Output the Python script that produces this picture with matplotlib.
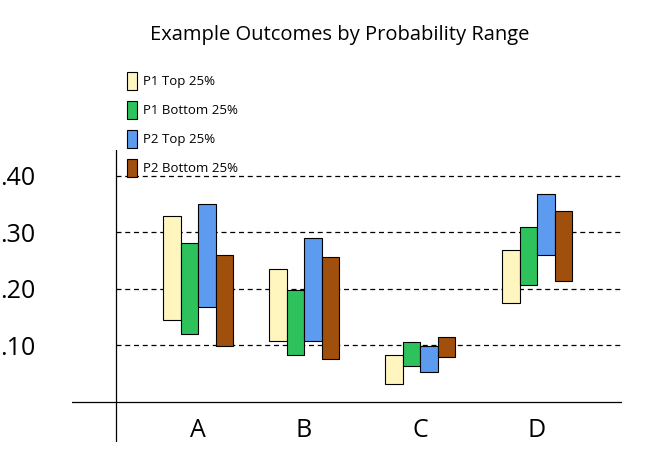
import matplotlib
matplotlib.use("Agg")
import matplotlib.pyplot as plt
from matplotlib.patches import Patch

categories = ["A", "B", "C", "D"]
series = ["P1 Top 25%", "P1 Bottom 25%", "P2 Top 25%", "P2 Bottom 25%"]
lows = [
    [0.145, 0.108, 0.032, 0.175],
    [0.120, 0.083, 0.064, 0.207],
    [0.168, 0.108, 0.053, 0.260],
    [0.099, 0.076, 0.080, 0.214],
]
highs = [
    [0.329, 0.235, 0.083, 0.269],
    [0.281, 0.198, 0.106, 0.310],
    [0.350, 0.290, 0.099, 0.368],
    [0.260, 0.257, 0.115, 0.338],
]
colors = ["#FFF5BF", "#2DC25C", "#5C9BF0", "#A14F0D"]
yticks = [0.10, 0.20, 0.30, 0.40]
ytlabels = [".10", ".20", ".30", ".40"]

plt.rcParams['font.family'] = ['Open Sans', 'DejaVu Sans']
fig = plt.figure(figsize=(6.47, 4.68), dpi=100)
W, H = 647, 468
ax = fig.add_axes([72 / W, 1 - 442 / H, 550 / W, 292 / H])
ax.set_xlim(72, 622)
ax.set_ylim(-0.071, 0.446)

centers = [198, 304, 420, 537]
bw = 17.5
for i in range(4):
    xs = [c + (i - 1.5) * bw for c in centers]
    bottoms = lows[i]
    heights = [h - l for h, l in zip(highs[i], lows[i])]
    ax.bar(xs, heights, bottom=bottoms, width=bw, color=colors[i],
           edgecolor="black", linewidth=0.8, zorder=3)

for y in yticks:
    ax.plot([116, 622], [y, y], ls=(0, (4, 3)), color="black", lw=0.9, zorder=1)
ax.axhline(0, color="black", lw=0.9)
ax.axvline(116, color="black", lw=0.9)
for s in ax.spines.values():
    s.set_visible(False)
ax.set_yticks(yticks)
ax.set_yticklabels(ytlabels, fontsize=18)
ax.set_xticks([])
ax.tick_params(length=0)
ax.tick_params(axis="y", pad=52)
for lab in ax.get_yticklabels():
    lab.set_horizontalalignment("left")
for c, lab in zip(centers, categories):
    ax.text(c, -0.05, lab, ha="center", va="center", fontsize=18)

fig.text(340 / W, 1 - 35 / H, "Example Outcomes by Probability Range",
         ha="center", va="center", fontsize=14.5)
handles = [Patch(facecolor=c, edgecolor="black", linewidth=0.8) for c in colors]
fig.legend(handles, series, loc="upper left", bbox_to_anchor=(115 / W, 1 - 60 / H),
           frameon=False, fontsize=9.5, handlelength=0.8, handleheight=1.7,
           handletextpad=0.4, labelspacing=0.85)
fig.savefig("out.png", dpi=100)
